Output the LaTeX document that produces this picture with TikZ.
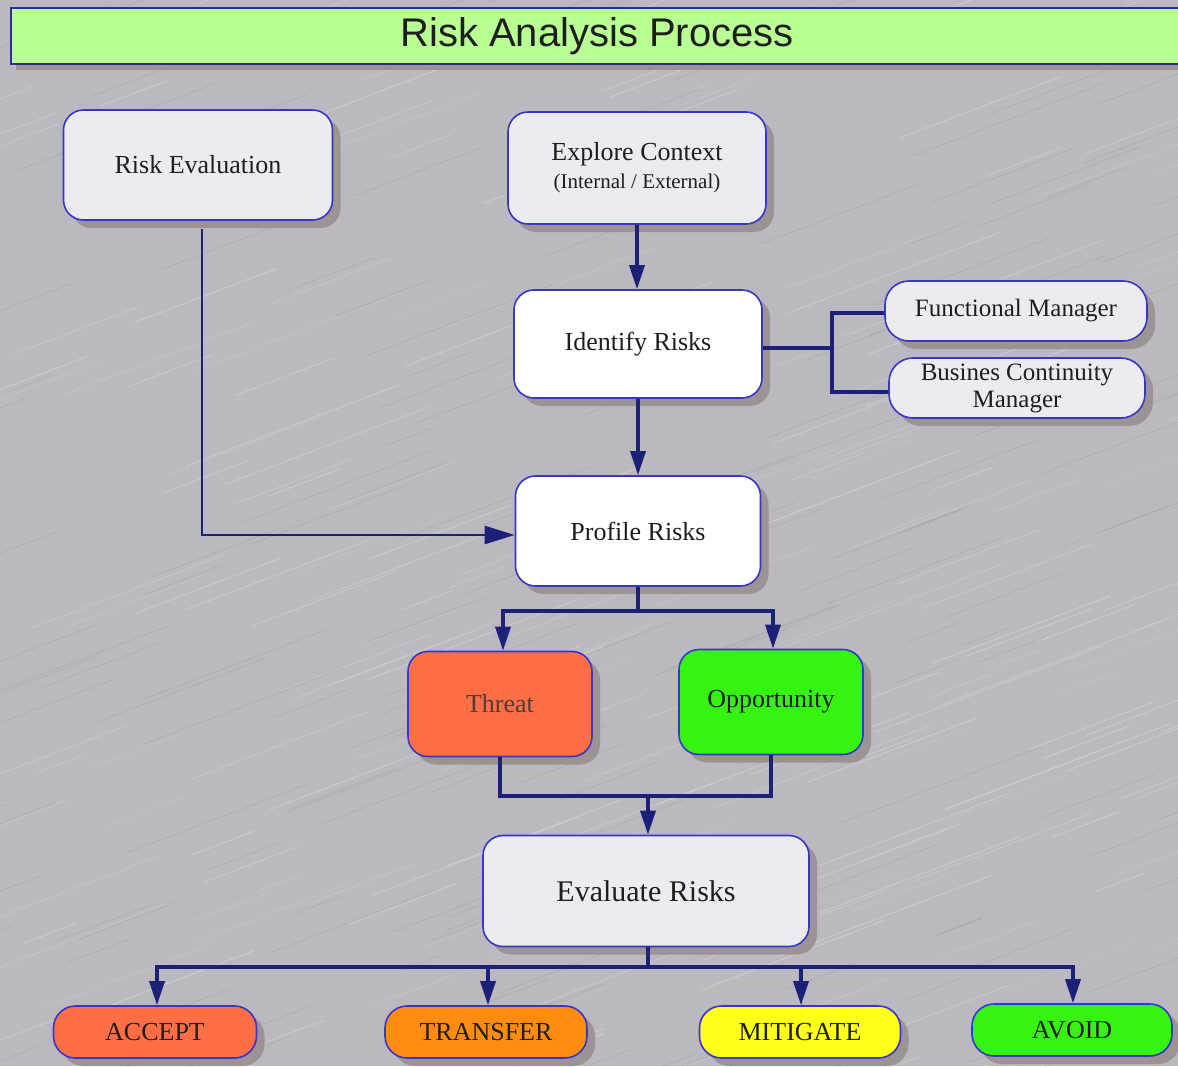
\documentclass[tikz,border=0pt]{standalone}
\usepackage{fontspec}
\setmainfont{Liberation Serif}
\newfontfamily\titlefont{Liberation Sans}
\usetikzlibrary{arrows.meta,shadows,calc}
\definecolor{bggray}{HTML}{BBB9BF}
\definecolor{boxblue}{HTML}{3636C8}
\definecolor{linenavy}{HTML}{1C2178}
\definecolor{boxfill}{HTML}{ECEBEF}
\definecolor{shadowgray}{HTML}{9C9494}
\definecolor{titlegreen}{HTML}{B9FF93}
\definecolor{redorange}{HTML}{FF6E44}
\definecolor{orangebox}{HTML}{FF8C10}
\definecolor{yellowbox}{HTML}{FFFF1A}
\definecolor{greenbox}{HTML}{36F412}
\definecolor{textdark}{HTML}{1E1E1E}
\definecolor{threattext}{HTML}{4E3C36}
\tikzset{
  box/.style={draw=boxblue, line width=1.6pt, rounded corners=20pt, fill=boxfill,
    font=\fontsize{26}{28}\selectfont, text=textdark, align=center, inner sep=0pt,
    general shadow={shadow xshift=8pt, shadow yshift=-8pt, fill=shadowgray}},
  pill/.style={box, rounded corners=22pt, minimum height=52pt},
  conn/.style={draw=linenavy, line width=3.5pt, -{Triangle[length=24pt,width=15pt]}},
  link/.style={draw=linenavy, line width=3.5pt},
  thinlink/.style={draw=linenavy, line width=2.6pt},
}
\begin{document}
\begin{tikzpicture}[x=1pt,y=-1pt]
\useasboundingbox (0,0) rectangle (1178,1066);
% background
\fill[bggray] (0,0) rectangle (1178,1066);
\begin{scope}
\clip (0,0) rectangle (1178,1066);
\pgfmathsetseed{7}
\foreach \i in {1,...,260}{
  \pgfmathsetmacro{\sx}{600+700*rand}
  \pgfmathsetmacro{\sy}{540+620*rand}
  \pgfmathsetmacro{\len}{140+90*rand}
  \pgfmathsetmacro{\op}{0.16+0.08*rand}
  \draw[white, opacity=\op, line width=1pt] (\sx,\sy) -- ++(\len,-0.38*\len);
}
\foreach \i in {1,...,200}{
  \pgfmathsetmacro{\sx}{600+700*rand}
  \pgfmathsetmacro{\sy}{540+620*rand}
  \pgfmathsetmacro{\len}{120+80*rand}
  \draw[black, opacity=0.05, line width=1pt] (\sx,\sy) -- ++(\len,-0.38*\len);
}
\end{scope}
% title bar
\fill[shadowgray] (16,14) rectangle (1190,70);
\node[draw=boxblue!80!black, line width=2pt, fill=titlegreen, minimum width=1180pt,
  minimum height=56pt, anchor=north west, inner sep=0pt] (titlebar) at (10,7) {};
\node[font=\titlefont\fontsize{40}{44}\selectfont, text=textdark] (title) at (597,36) {Risk Analysis Process};

% nodes
\node[box, minimum width=269pt, minimum height=110pt] (re) at (198,165) {Risk Evaluation};
\node[box, minimum width=258pt, minimum height=112pt] (ec) at (637,168)
  {Explore Context\\[0pt]{\fontsize{21}{24}\selectfont (Internal / External)}};
\node[box, fill=white, minimum width=248pt, minimum height=108pt] (ir) at (638,344) {Identify Risks};
\node[box, rounded corners=24pt, minimum width=262pt, minimum height=60pt] (fm) at (1016,311)
  {\fontsize{25}{28}\selectfont Functional Manager};
\node[box, rounded corners=24pt, minimum width=256pt, minimum height=60pt,
  font=\fontsize{25}{27}\selectfont] (bcm) at (1017,388)
  {Busines Continuity\\Manager};
\node[box, fill=white, minimum width=245pt, minimum height=110pt] (pr) at (638,531) {Profile Risks};
\node[box, fill=redorange, text=threattext, minimum width=184pt, minimum height=105pt] (th) at (500,704) {Threat};
\node[box, fill=greenbox, minimum width=184pt, minimum height=105pt] (op) at (771,702) {Opportunity};
\node[box, minimum width=326pt, minimum height=111pt, font=\fontsize{30}{32}\selectfont] (ev) at (646,891) {Evaluate Risks};
\node[pill, fill=redorange, minimum width=203pt] (acc) at (155,1032) {ACCEPT};
\node[pill, fill=orangebox, minimum width=202pt] (tra) at (486,1032) {TRANSFER};
\node[pill, fill=yellowbox, minimum width=201pt] (mit) at (800,1032) {MITIGATE};
\node[pill, fill=greenbox, minimum width=200pt] (avo) at (1072,1030) {AVOID};

% connectors
\draw[conn] (ec.south) -- (ec.south |- ir.north);
\draw[conn] (ir.south) -- (ir.south |- pr.north);
\draw[thinlink, -{Triangle[length=30pt,width=18pt]}] ([xshift=4pt,yshift=-8pt]re.south) |- ([yshift=-4pt]pr.west);

\coordinate (mb) at (832,348);
\draw[link, line width=4.5pt] ([yshift=-4pt]ir.east) -- (mb);
\draw[link, line width=4pt] ([yshift=-2pt]fm.west) -| (mb) |- ([yshift=-4pt]bcm.west);

\coordinate (pj) at (638,611);
\draw[link] (pr.south) -- (pj);
\draw[conn] (pj) -| ([xshift=3pt]th.north);
\draw[conn] (pj) -| ([xshift=2pt]op.north);

\coordinate (ej) at (648,796);
\draw[link] (th.south) |- (ej);
\draw[link] (op.south) |- (ej);
\draw[conn] (ej) -- (ej |- ev.north);

\coordinate (oj) at (648,967);
\draw[link] ([xshift=2pt]ev.south) -- (oj);
\draw[conn] (oj) -| ([xshift=2pt]acc.north);
\draw[conn] (oj) -| ([xshift=2pt]tra.north);
\draw[conn] (oj) -| ([xshift=1pt]mit.north);
\draw[conn] (oj) -| ([xshift=1pt]avo.north);
\end{tikzpicture}
\end{document}
